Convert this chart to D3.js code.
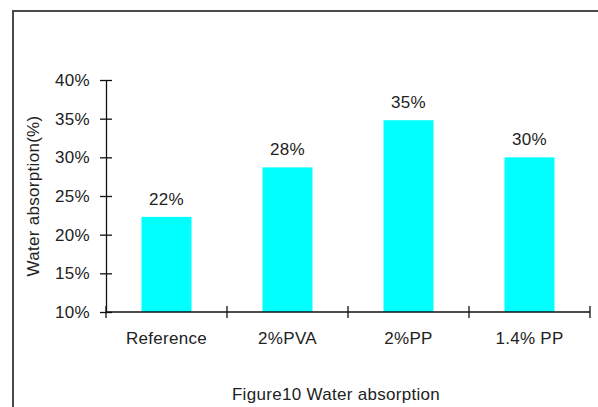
<!DOCTYPE html>
<html><head><meta charset="utf-8">
<script src="https://cdn.jsdelivr.net/npm/d3@7"></script>
<style>
html,body{margin:0;padding:0;background:#fff;overflow:hidden;}
text{font-family:"Liberation Sans",Arial,sans-serif;fill:#222;letter-spacing:0.3px;}
</style></head>
<body>
<svg id="c" width="598" height="407"></svg>
<script>
const categories = ["Reference", "2%PVA", "2%PP", "1.4% PP"];
const values = [22.3, 28.7, 34.8, 30.0];
const valueLabels = ["22%", "28%", "35%", "30%"];
const yTicks = [10, 15, 20, 25, 30, 35, 40];
const yTickLabels = ["10%", "15%", "20%", "25%", "30%", "35%", "40%"];
const yTitle = "Water absorption(%)";
const chartTitle = "Figure10 Water absorption";

(function () {
const svg = d3.select("#c");
const fs = 17;

// frame
svg.append("rect").attr("x", 13).attr("y", 11).attr("width", 640).attr("height", 440)
  .attr("fill", "none").attr("stroke", "#4a4a4a").attr("stroke-width", 2);

const pL = 106, pR = 590, pT = 80, pB = 312;
const x = d3.scaleBand().domain(categories).range([pL, pR]).padding(0);
const y = d3.scaleLinear().domain([10, 40]).range([pB, pT]);
const barFrac = 0.413;

// bars
svg.append("g").selectAll("rect").data(categories).join("rect")
  .attr("x", d => x(d) + x.bandwidth() * (1 - barFrac) / 2)
  .attr("width", x.bandwidth() * barFrac)
  .attr("y", (d, i) => y(values[i]))
  .attr("height", (d, i) => y(10) - y(values[i]))
  .attr("fill", "#00ffff");

// value labels
svg.append("g").selectAll("text").data(categories).join("text")
  .attr("x", d => x(d) + x.bandwidth() / 2)
  .attr("y", (d, i) => y(values[i]) - 12)
  .attr("text-anchor", "middle").attr("font-size", fs)
  .text((d, i) => valueLabels[i]);

// y axis
const yAxis = svg.append("g").attr("transform", `translate(${pL},0)`)
  .call(d3.axisLeft(y).tickValues(yTicks).tickFormat((d, i) => yTickLabels[i])
    .tickSize(6).tickSizeOuter(0).tickPadding(10));
yAxis.attr("font-family", null).attr("font-size", null);
yAxis.selectAll(".tick line").attr("x1", 6).attr("stroke", "#111").attr("stroke-width", 1.3);
yAxis.select(".domain").attr("stroke", "#111").attr("stroke-width", 1.3);
yAxis.selectAll("text").attr("font-size", fs).attr("fill", null);

// x axis
const xg = svg.append("g");
xg.append("line").attr("x1", pL).attr("x2", pR).attr("y1", y(10)).attr("y2", y(10))
  .attr("stroke", "#111").attr("stroke-width", 1.3);
const edges = categories.map(c => x(c)).concat([x.range()[1]]);
xg.selectAll("line.t").data(edges).join("line").attr("class", "t")
  .attr("x1", d => d).attr("x2", d => d)
  .attr("y1", y(10) - 6).attr("y2", y(10) + 6)
  .attr("stroke", "#111").attr("stroke-width", 1.3);
xg.selectAll("text").data(categories).join("text")
  .attr("x", d => x(d) + x.bandwidth() / 2)
  .attr("y", y(10) + 32)
  .attr("text-anchor", "middle").attr("font-size", fs)
  .text(d => d);

// y title
svg.append("text").attr("transform", `translate(39,${(pT + pB) / 2}) rotate(-90)`)
  .attr("text-anchor", "middle").attr("font-size", fs).text(yTitle);

// chart title
svg.append("text").attr("x", 336).attr("y", 400).attr("text-anchor", "middle")
  .attr("font-size", fs).text(chartTitle);
})();
</script>
</body></html>
